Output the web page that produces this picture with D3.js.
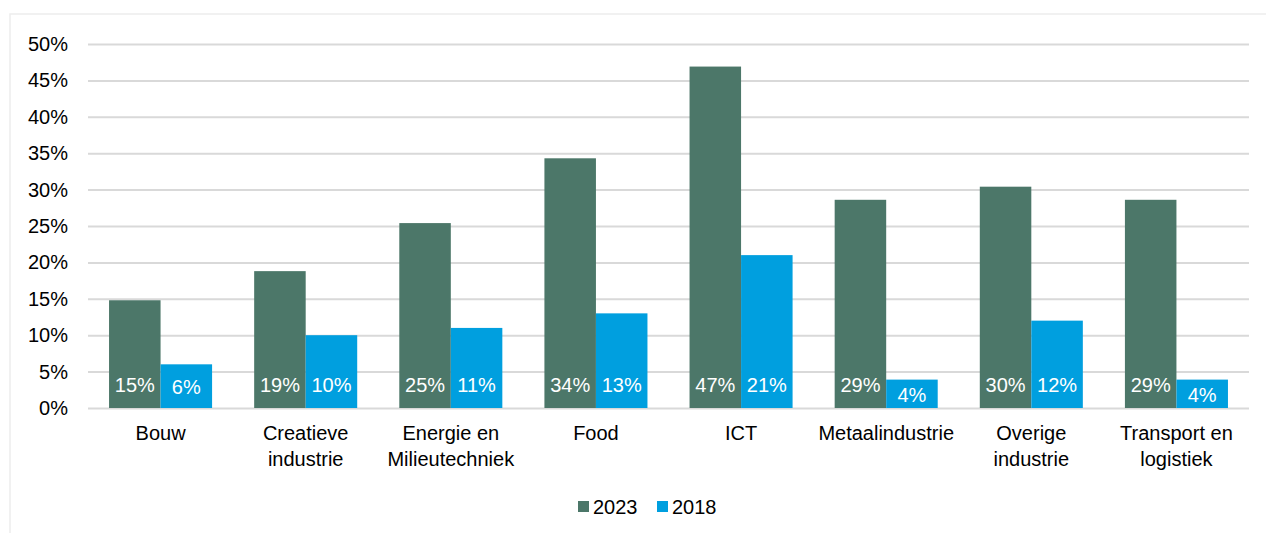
<!DOCTYPE html>
<html>
<head>
<meta charset="utf-8">
<script src="https://cdn.jsdelivr.net/npm/d3@7"></script>
<style>
  body { margin: 0; background: #fff; }
  svg { display: block; font-family: "Liberation Sans", Arial, sans-serif; }
</style>
</head>
<body>
<svg id="chart" width="1266" height="533"></svg>
<script>
// categories (line breaks as in the chart)
var categories = [
    ["Bouw"],
    ["Creatieve", "industrie"],
    ["Energie en", "Milieutechniek"],
    ["Food"],
    ["ICT"],
    ["Metaalindustrie"],
    ["Overige", "industrie"],
    ["Transport en", "logistiek"]
];
var values2023 = [14.8, 18.8, 25.4, 34.3, 46.9, 28.6, 30.4, 28.6];
var values2018 = [6, 10, 11, 13, 21, 3.9, 12, 3.9];
var seriesNames = ["2023", "2018"];
var seriesColors = ["#4c7769", "#009fdf"];
var yTicks = [0, 5, 10, 15, 20, 25, 30, 35, 40, 45, 50];

var svg = d3.select('#chart');

// light outline of the chart area
svg.append('rect')
    .attr('x', 10).attr('y', 14)
    .attr('width', 1262).attr('height', 530)
    .attr('fill', 'none')
    .attr('stroke', '#ededed')
    .attr('stroke-width', 1.5);

// plot area (window.top is read-only, so don't call it "top")
var plotLeft = 88, plotRight = 1249, plotTop = 44, plotBottom = 408;

var x = d3.scaleBand()
    .domain(d3.range(categories.length))
    .range([plotLeft, plotRight])
    .paddingInner(0.29)
    .paddingOuter(0.145);

var xs = d3.scaleBand()
    .domain(seriesNames)
    .range([0, x.bandwidth()]);

var y = d3.scaleLinear().domain([0, 50]).range([plotBottom, plotTop]);

// gridlines + y labels
var yAxis = d3.axisLeft(y)
    .tickValues(yTicks)
    .tickSize(-(plotRight - plotLeft))
    .tickPadding(20)
    .tickFormat(function (d) { return d + '%'; });

var gy = svg.append('g')
    .attr('transform', 'translate(' + plotRight + ',0)')
    .call(yAxis);
gy.select('.domain').remove();
gy.selectAll('.tick line')
    .attr('x1', plotLeft - plotRight).attr('x2', 0)
    .attr('stroke', '#d9d9d9').attr('stroke-width', 2);
gy.selectAll('.tick text')
    .attr('x', plotLeft - plotRight - 20)
    .attr('fill', '#000')
    .attr('font-size', 20)
    .attr('font-family', '"Liberation Sans", Arial, sans-serif');

// bars
var rows = categories.map(function (c, i) {
    return { i: i, vals: [values2023[i], values2018[i]] };
});

var groups = svg.append('g').selectAll('g')
    .data(rows)
    .enter().append('g')
    .attr('transform', function (d) { return 'translate(' + x(d.i) + ',0)'; });

groups.selectAll('rect')
    .data(function (d) { return d.vals.map(function (v, k) { return { k: k, v: v }; }); })
    .enter().append('rect')
    .attr('x', function (d) { return xs(seriesNames[d.k]); })
    .attr('y', function (d) { return y(d.v); })
    .attr('width', xs.bandwidth())
    .attr('height', function (d) { return y(0) - y(d.v); })
    .attr('fill', function (d) { return seriesColors[d.k]; });

// value labels, inside base
groups.selectAll('text.val')
    .data(function (d) { return d.vals.map(function (v, k) { return { k: k, v: v }; }); })
    .enter().append('text')
    .attr('class', 'val')
    .attr('x', function (d) { return xs(seriesNames[d.k]) + xs.bandwidth() / 2; })
    .attr('y', function (d) { return Math.max((y(d.v) + y(0)) / 2 + 1, y(0) - 23); })
    .attr('dy', '0.35em')
    .attr('text-anchor', 'middle')
    .attr('fill', '#fff')
    .attr('font-size', 20)
    .text(function (d) { return Math.round(d.v) + '%'; });

// category labels
var cat = svg.append('g').selectAll('text')
    .data(categories)
    .enter().append('text')
    .attr('x', function (d, i) { return x(i) + x.bandwidth() / 2; })
    .attr('y', 440)
    .attr('text-anchor', 'middle')
    .attr('fill', '#000')
    .attr('font-size', 20);
cat.selectAll('tspan')
    .data(function (d) { return d; })
    .enter().append('tspan')
    .attr('x', function () { return this.parentNode.getAttribute('x'); })
    .attr('dy', function (d, j) { return j === 0 ? 0 : 26; })
    .text(function (d) { return d; });

// legend
var legendX = [578, 657];
var legend = svg.append('g').selectAll('g')
    .data(seriesNames)
    .enter().append('g')
    .attr('transform', function (d, i) { return 'translate(' + legendX[i] + ',501)'; });
legend.append('rect')
    .attr('width', 11).attr('height', 11)
    .attr('fill', function (d, i) { return seriesColors[i]; });
legend.append('text')
    .attr('x', 15).attr('y', 5.5)
    .attr('dy', '0.35em')
    .attr('font-size', 20)
    .attr('fill', '#000')
    .text(function (d) { return d; });
</script>
</body>
</html>
